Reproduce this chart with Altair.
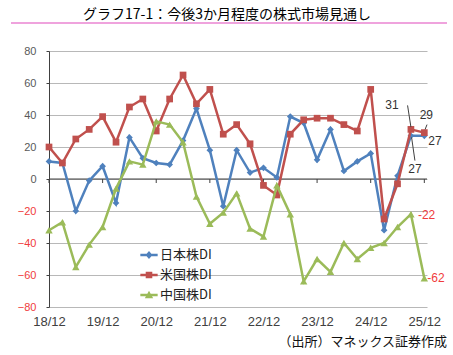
import altair as alt
import pandas as pd

# ---------------- data ----------------
x_labels = ["18/12", "19/12", "20/12", "21/12", "22/12", "23/12", "24/12", "25/12"]
series_names = ["日本株DI", "米国株DI", "中国株DI"]

jp = [11, 10, -20, -1, 8, -15, 26, 13, 10, 9, 24, 44, 18, -17, 18, 4, 7, 1,
      39, 35, 12, 31, 5, 11, 16, -32, 2, 27, 27]
us = [20, 10, 25, 31, 39, 23, 45, 50, 30, 50, 65, 47, 56, 28, 34, 22, -4, -10,
      28, 37, 38, 38, 34, 30, 56, -25, -3, 31, 29]
cn = [-32, -27, -55, -41, -30, -6, 11, 9, 36, 34, 23, -11, -28, -21, -9, -31, -36, -4,
      -22, -64, -50, -58, -40, -50, -43, -40, -30, -22, -62]

y_ticks = [-80, -60, -40, -20, 0, 20, 40, 60, 80]

title_text = "グラフ17-1：今後3か月程度の株式市場見通し"
source_text = "（出所）マネックス証券作成"

# ---------------- styles ----------------
colors = ["#4F81BD", "#C0504D", "#9BBB59"]
shapes = ["diamond", "square", "triangle-up"]
sizes = [45, 45, 55]
RED = "#F03C3C"
JP_FONT = "Noto Sans CJK JP"
NUM_FONT = "Liberation Sans"

bar = "M-1,-0.14L1,-0.14L1,0.14L-1,0.14Z"
legend_paths = [
    bar + "M0,-0.45L0.4,0L0,0.45L-0.4,0Z",
    bar + "M-0.38,-0.38L0.38,-0.38L0.38,0.38L-0.38,0.38Z",
    bar + "M0,-0.5L0.48,0.38L-0.48,0.38Z",
]

n_q = (len(x_labels) - 1) * 4
tick_idx = list(range(0, n_q + 1, 4))
labels_js = "[" + ",".join("'" + s + "'" for s in x_labels) + "]"

X = alt.X(
    "idx:Q",
    scale=alt.Scale(domain=[0, 28.2], nice=False, zero=False),
    axis=alt.Axis(
        values=tick_idx, labelExpr=labels_js + "[datum.value / 4]",
        domain=False, ticks=False, grid=False, title=None,
        labelFontSize=13, labelFont=NUM_FONT, labelColor="#404040",
        labelPadding=8, labelFlush=False, labelOverlap=False,
    ),
)
Y = alt.Y(
    "v:Q",
    scale=alt.Scale(domain=[-80, 80], nice=False),
    axis=alt.Axis(
        values=y_ticks, title=None, grid=True, gridColor="#b8b8b8", gridWidth=1.2,
        domainColor="#404040", tickColor="#404040", tickSize=3, labelPadding=10,
        labelFontSize=11, labelFont=NUM_FONT, labelOverlap=False, labelFlush=False,
        labelColor=alt.condition("datum.value < 0", alt.value(RED), alt.value("#595959")),
    ),
)


def sdf(vals):
    return pd.DataFrame({"idx": list(range(len(vals))), "v": vals})


layers = []

# legend (no marks drawn, only the legend)
leg_df = pd.DataFrame({"series": series_names, "idx": [0, 0, 0], "v": [0, 0, 0]})
legend = alt.Legend(
    orient="none", legendX=91, legendY=195, title=None, symbolSize=300,
    symbolStrokeWidth=0, symbolOpacity=1, labelFont=JP_FONT, labelFontSize=13,
    labelColor="#222222", labelOffset=2, rowPadding=4, direction="vertical",
)
layers.append(
    alt.Chart(leg_df).mark_point(filled=True, opacity=1)
    .transform_filter("false")
    .encode(
        x=X, y=Y,
        color=alt.Color("series:N", scale=alt.Scale(domain=series_names, range=colors), legend=legend),
        shape=alt.Shape("series:N", scale=alt.Scale(domain=series_names, range=legend_paths), legend=legend),
    )
)

# zero line with tick marks
one = pd.DataFrame({"k": [0]})
zero_df = pd.DataFrame({"idx": tick_idx, "v": [0] * len(tick_idx), "v2": [-2.5] * len(tick_idx)})
layers.append(
    alt.Chart(zero_df.head(1)).mark_rule(color="#404040", strokeWidth=1)
    .encode(y=Y, x=alt.value(0), x2=alt.value(378))
)
layers.append(
    alt.Chart(zero_df).mark_rule(color="#404040", strokeWidth=1)
    .encode(x=X, y=Y, y2="v2:Q")
)

# series
for vals, c, s, sz in zip([jp, us, cn], colors, shapes, sizes):
    d = sdf(vals)
    layers.append(alt.Chart(d).mark_line(color=c, strokeWidth=2.5).encode(x=X, y=Y))
    layers.append(
        alt.Chart(d).mark_point(shape=s, filled=True, size=sz, color=c, opacity=1)
        .encode(x=X, y=Y)
    )

# leader lines
def leader(i, v, x1, y1, x2, y2):
    d = pd.DataFrame({"idx": [i + x1], "v": [v + y1], "idx2": [i + x2], "v2": [v + y2]})
    return alt.Chart(d).mark_rule(color="#404040", strokeWidth=1).encode(
        x=X, y=Y, x2="idx2:Q", y2="v2:Q")

layers.append(leader(27, us[27], -0.25, 15, 0.0, 1.5))
layers.append(leader(27, jp[27], 0.05, -1, 0.3, -15.5))
layers.append(leader(28, us[28], 0.06, 2, 0.2, 5))

# data labels
def label(i, vals, dx, dy, align, color):
    d = pd.DataFrame({"idx": [i], "v": [vals[i]], "t": [str(vals[i])]})
    return alt.Chart(d).mark_text(
        dx=dx, dy=dy, align=align, baseline="middle", fontSize=12, font=NUM_FONT, color=color
    ).encode(x=X, y=Y, text="t:N")

layers.append(label(27, us, -19, -24, "center", "#333333"))
layers.append(label(28, us, 2, -18, "center", "#333333"))
layers.append(label(28, jp, 4, 5, "left", "#333333"))
layers.append(label(27, jp, 4, 33, "center", "#333333"))
layers.append(label(27, cn, 7, 1, "left", RED))
layers.append(label(28, cn, 3, 0, "left", RED))

# title, its pink underline, source note
layers.append(
    alt.Chart(one).mark_text(
        text=title_text, align="center", baseline="middle",
        fontSize=14, font=JP_FONT, color="#000000",
    ).encode(x=alt.value(178), y=alt.value(-36))
)
layers.append(
    alt.Chart(one).mark_rule(color="#EFA3DD", strokeWidth=2)
    .encode(x=alt.value(-38), x2=alt.value(398), y=alt.value(-28))
)
layers.append(
    alt.Chart(one).mark_text(
        text=source_text, align="right", baseline="middle",
        fontSize=13, font=JP_FONT, color="#111111",
    ).encode(x=alt.value(398), y=alt.value(291))
)

chart = (
    alt.layer(*layers)
    .properties(
        width=378, height=256,
        padding={"left": 49, "top": 51, "right": 26, "bottom": 48},
        autosize=alt.AutoSizeParams(type="none"),
        background="white",
    )
    .configure_view(stroke=None)
)

chart.save("out.html", embed_options={"renderer": "svg", "actions": False})
